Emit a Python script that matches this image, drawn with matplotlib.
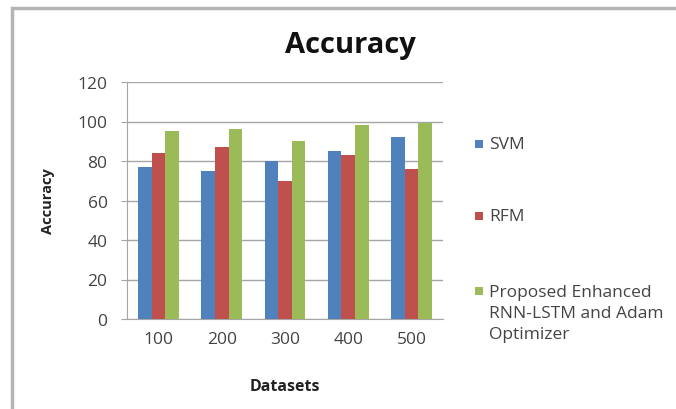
import matplotlib

matplotlib.use("Agg")

import matplotlib.pyplot as plt
import numpy as np
from matplotlib.patches import Rectangle

# values
datasets = ["100", "200", "300", "400", "500"]
svm = [77, 75, 80, 85, 92]
rfm = [84, 87, 70, 83, 76]
proposed = [95, 96, 90, 98, 99]
series_names = ["SVM", "RFM", "Proposed Enhanced\nRNN-LSTM and Adam\nOptimizer"]
yticks = [0, 20, 40, 60, 80, 100, 120]

colors = ["#4F81BD", "#C0504D", "#9BBB59"]

plt.rcParams["font.family"] = ["Open Sans", "DejaVu Sans"]

fig = plt.figure(figsize=(6.76, 4.10), dpi=100)
fig.patch.set_facecolor("white")

# outer chart border (left and top edges visible)
fig.add_artist(Rectangle((12 / 676, -0.05), 1.0, 1 - 9 / 410 + 0.05,
                         transform=fig.transFigure, fill=False,
                         edgecolor="#B4B4B4", linewidth=2.5))

ax = fig.add_axes([127 / 676, 1 - 320 / 410, (443 - 127) / 676, (320 - 83) / 410])

x = np.arange(len(datasets))
w = 0.215
for i, (vals, c) in enumerate(zip([svm, rfm, proposed], colors)):
    ax.bar(x + (i - 1) * w, vals, width=w, color=c, edgecolor="none", zorder=3)

ax.set_xlim(-0.5, len(datasets) - 0.5)
ax.set_ylim(0, 120)
ax.set_yticks(yticks)
ax.set_xticks(x)
ax.set_xticklabels(datasets)
ax.grid(axis="y", color="#A6A6A6", linewidth=1, zorder=0)

for side in ["top", "right"]:
    ax.spines[side].set_visible(False)
ax.spines["left"].set_color("#A6A6A6")
ax.spines["bottom"].set_color("#A6A6A6")
ax.tick_params(axis="y", length=4, color="#A6A6A6", labelsize=12.5, labelcolor="#444444", pad=10)
ax.tick_params(axis="x", length=0, labelsize=12.5, labelcolor="#444444", pad=9)

ax.set_ylabel("Accuracy", fontsize=10.5, fontweight="bold", color="#222222", labelpad=16)
ax.set_xlabel("Datasets", fontsize=11.5, fontweight="bold", color="#222222", labelpad=22)

fig.text(350 / 676, 1 - 45 / 410, "Accuracy", ha="center", va="center",
         fontsize=21, fontweight="bold", color="#111111")

# legend entries placed like the Excel legend
legend_y = [145, 217, 292]
for name, c, ly in zip(series_names, colors, legend_y):
    fig.add_artist(Rectangle((475 / 676, 1 - (ly + 4) / 410), 8 / 676, 8 / 410,
                             transform=fig.transFigure, facecolor=c, edgecolor="none"))
    if "\n" in name:
        fig.text(489 / 676, 1 - (ly - 7) / 410, name, ha="left", va="top",
                 fontsize=12.5, color="#444444", linespacing=1.42)
    else:
        fig.text(489 / 676, 1 - ly / 410, name, ha="left", va="center",
                 fontsize=12.5, color="#444444")

fig.savefig("out.png", dpi=100)
